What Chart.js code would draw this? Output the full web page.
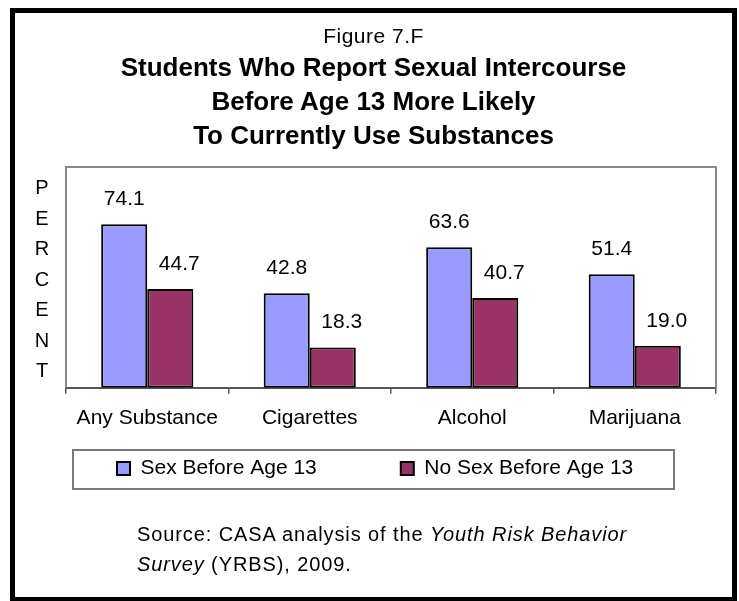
<!DOCTYPE html>
<html>
<head>
<meta charset="utf-8">
<script src="https://cdn.jsdelivr.net/npm/chart.js@4/dist/chart.umd.min.js"></script>
<style>
  html, body { margin: 0; padding: 0; background: #fff; }
  #wrap { position: relative; width: 739px; height: 601px; overflow: hidden; font-family: 'Liberation Sans', Arial, sans-serif; color: #000; }
  #chart { position: absolute; left: 0; top: 0; }
  #frame { position: absolute; left: 10px; top: 8px; width: 727px; height: 594px; box-sizing: border-box; border: 5px solid #000; pointer-events: none; }
  #fig { position: absolute; left: 10px; width: 727px; top: 24px; text-align: center; font-size: 21px; letter-spacing: 0.5px; line-height: normal; }
  #title { position: absolute; left: 10px; width: 727px; top: 50px; text-align: center; font-size: 26px; font-weight: bold; line-height: 34px; }
  #ylab { position: absolute; left: 30px; width: 24px; top: 172px; text-align: center; font-size: 20px; line-height: 30.5px; }
  #ylab span { display: block; }
  #source { position: absolute; left: 137px; top: 520px; font-size: 20px; letter-spacing: 0.9px; line-height: 29.5px; }
</style>
</head>
<body>
<div id="wrap">
  <canvas id="chart" width="739" height="601"></canvas>
  <div id="fig">Figure 7.F</div>
  <div id="title">Students Who Report Sexual Intercourse<br>Before Age 13 More Likely<br>To Currently Use Substances</div>
  <div id="ylab"><span>P</span><span>E</span><span>R</span><span>C</span><span>E</span><span>N</span><span>T</span></div>
  <div id="source">Source: CASA analysis of the <i>Youth Risk Behavior</i><br><i>Survey</i> (YRBS), 2009.</div>
  <div id="frame"></div>
</div>
<script>
const categories = ['Any Substance', 'Cigarettes', 'Alcohol', 'Marijuana'];
const seriesNames = ['Sex Before Age 13', 'No Sex Before Age 13'];
const sexBefore13 = [74.1, 42.8, 63.6, 51.4];
const noSexBefore13 = [44.7, 18.3, 40.7, 19.0];
const yMin = 0;
const yMax = 100;

Chart.defaults.font.family = "'Liberation Sans', Arial, sans-serif";
Chart.defaults.color = '#000';

const FONT21 = "21px 'Liberation Sans', Arial, sans-serif";

const decorPlugin = {
  id: 'decor',
  afterLayout(chart, args, opts) {
    const lg = chart.legend;
    if (!lg || !lg.lineWidths) return;
    const pad = lg.options.labels.padding;
    const h = lg.height;
    const start = opts.legendStartX;
    lg.left = start - pad - 1;
    lg.right = start + lg.lineWidths[0] + 1;
    lg.width = lg.right - lg.left;
    lg.top = opts.legendItemTop - pad; lg.bottom = lg.top + h;
  },
  beforeDatasetsDraw(chart) {
    const {ctx, chartArea: a} = chart;
    ctx.save();
    ctx.strokeStyle = '#8a8a8a';
    ctx.lineWidth = 2;
    ctx.beginPath();
    ctx.moveTo(a.left, a.bottom);
    ctx.lineTo(a.left, a.top);
    ctx.lineTo(a.right, a.top);
    ctx.lineTo(a.right, a.bottom);
    ctx.stroke();
    ctx.restore();
  },
  afterDatasetsDraw(chart, args, opts) {
    const {ctx} = chart;
    ctx.save();
    ctx.font = FONT21;
    ctx.fillStyle = '#000';
    ctx.textAlign = 'center';
    ctx.textBaseline = 'alphabetic';
    chart.data.datasets.forEach((ds, di) => {
      const meta = chart.getDatasetMeta(di);
      meta.data.forEach((bar, i) => {
        const v = ds.data[i];
        ctx.fillText(v.toFixed(1), bar.x + (opts.shiftX[di] || 0), bar.y - opts.gap);
      });
    });
    ctx.restore();
  },
  afterDraw(chart, args, opts) {
    const {ctx} = chart;
    const f = opts.legendFrame;
    ctx.save();
    ctx.strokeStyle = '#7a7a7a';
    ctx.lineWidth = 2;
    ctx.strokeRect(f[0], f[1], f[2], f[3]);
    ctx.restore();
  }
};

new Chart(document.getElementById('chart'), {
  type: 'bar',
  data: {
    labels: categories,
    datasets: [
      { label: seriesNames[0], data: sexBefore13, backgroundColor: '#9999FF', borderColor: '#000', borderWidth: 2, borderSkipped: false },
      { label: seriesNames[1], data: noSexBefore13, backgroundColor: '#993366', borderColor: '#000', borderWidth: 2, borderSkipped: false }
    ]
  },
  options: {
    responsive: false,
    animation: false,
    devicePixelRatio: 1,
    layout: { padding: { left: 0, right: 23, top: 167, bottom: 43 } },
    datasets: { bar: { categoryPercentage: 0.567, barPercentage: 1.0 } },
    scales: {
      x: {
        offset: true,
        grid: { display: true, drawOnChartArea: false, drawTicks: true, tickLength: 6, color: '#555', lineWidth: 1.5, offset: true },
        border: { display: true, color: '#555', width: 2 },
        ticks: { font: { size: 21 }, color: '#000', padding: 12, maxRotation: 0, autoSkip: false }
      },
      y: {
        min: yMin, max: yMax,
        display: true,
        grid: { display: false, drawTicks: false },
        border: { display: false },
        ticks: { display: false },
        afterFit(scale) { scale.width = 66; }
      }
    },
    plugins: {
      legend: {
        position: 'bottom',
        labels: { boxWidth: 13, boxHeight: 13, padding: 84, font: { size: 21 }, color: '#000' }
      },
      tooltip: { enabled: false },
      decor: { gap: 19, shiftX: [0, 9], legendStartX: 117, legendItemTop: 458, legendFrame: [73, 450, 601, 39] }
    }
  },
  plugins: [decorPlugin]
});
</script>
</body>
</html>
